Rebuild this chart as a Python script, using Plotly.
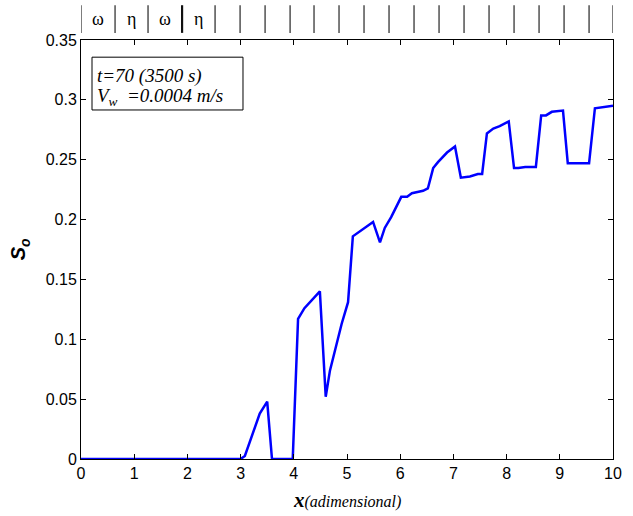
import plotly.graph_objects as go

# Oil saturation profile along the core at t=70
x_pos = [0.0, 1.0, 2.0, 3.0, 3.08, 3.36, 3.5, 3.59, 3.98, 4.08, 4.2, 4.49, 4.6, 4.68,
         4.9, 5.02, 5.11, 5.3, 5.49, 5.62, 5.71, 5.83, 6.02, 6.13, 6.22, 6.43, 6.52,
         6.62, 6.71, 6.88, 7.03, 7.14, 7.31, 7.46, 7.54, 7.63, 7.75, 7.87, 8.04, 8.14,
         8.22, 8.35, 8.55, 8.65, 8.74, 8.85, 9.06, 9.15, 9.55, 9.66, 9.81, 10.0]
s_oil = [0.0, 0.0, 0.0, 0.0, 0.0025, 0.038, 0.048, 0.0, 0.0, 0.117, 0.126, 0.140, 0.052, 0.074,
         0.113, 0.131, 0.186, 0.192, 0.198, 0.181, 0.193, 0.202, 0.219, 0.219, 0.222, 0.224, 0.226,
         0.243, 0.248, 0.256, 0.261, 0.235, 0.236, 0.238, 0.238, 0.272, 0.276, 0.278, 0.282, 0.243,
         0.243, 0.244, 0.244, 0.287, 0.287, 0.290, 0.291, 0.247, 0.247, 0.293, 0.294, 0.295]

# Layer boundaries drawn above the axes, and the labels of the first layers
layer_edges = [0.0, 0.64, 1.26, 1.90, 2.52, 2.99, 3.46, 3.93, 4.38, 4.85, 5.32, 5.79,
               6.26, 6.73, 7.20, 7.67, 8.14, 8.61, 9.08, 9.55, 10.0]
layer_names = ["ω", "η", "ω", "η"]

x_ticks = list(range(0, 11))
y_ticks = [0, 0.05, 0.1, 0.15, 0.2, 0.25, 0.3, 0.35]
y_tick_text = ["0", "0.05", "0.1", "0.15", "0.2", "0.25", "0.3", "0.35"]

fig = go.Figure()
fig.add_trace(go.Scatter(x=x_pos, y=s_oil, mode="lines",
                         line=dict(color="#0000FF", width=2.5), showlegend=False))

shapes = []
for i, e in enumerate(layer_edges):
    shapes.append(dict(type="line", xref="x", yref="paper", x0=e, x1=e,
                       y0=1.017, y1=1.083,
                       line=dict(color="#111111", width=2.2 if i == 3 else 1.1)))
# info box
shapes.append(dict(type="rect", xref="paper", yref="paper",
                   x0=0.0207, x1=0.3045, y0=0.833, y1=0.959,
                   line=dict(color="black", width=1), fillcolor="white", layer="above"))

annotations = []
for i, name in enumerate(layer_names):
    annotations.append(dict(x=(layer_edges[i] + layer_edges[i + 1]) / 2, y=1.05,
                            xref="x", yref="paper", xanchor="center", yanchor="middle",
                            text=name, showarrow=False,
                            font=dict(family="Liberation Serif", size=18, color="black")))

annotations += [
    dict(x=0.026, y=0.915, xref="paper", yref="paper", xanchor="left", yanchor="middle",
         text="<i>t=70 (3500 s)</i>", showarrow=False,
         font=dict(family="Liberation Serif", size=19, color="black")),
    dict(x=0.026, y=0.863, xref="paper", yref="paper", xanchor="left", yanchor="middle",
         text="<i>V<sub>w</sub>  =0.0004 m/s</i>", showarrow=False,
         font=dict(family="Liberation Serif", size=19, color="black")),
    dict(x=0.5, y=-0.098, xref="paper", yref="paper", xanchor="center", yanchor="middle",
         text="<b><i>x</i></b><i><span style='font-size:16px'>(adimensional)</span></i>",
         showarrow=False, font=dict(family="Liberation Serif", size=21, color="black")),
    dict(x=-0.115, y=0.5, xref="paper", yref="paper", xanchor="center", yanchor="middle",
         text="<b><i>S<sub>o</sub></i></b>", textangle=-90, showarrow=False,
         font=dict(family="Liberation Sans", size=20, color="black")),
]

axis_common = dict(showgrid=False, zeroline=False, showline=True, linecolor="black",
                   linewidth=1, mirror="ticks", ticks="inside", ticklen=5,
                   tickcolor="black", tickwidth=1,
                   tickfont=dict(family="Liberation Sans", size=16, color="black"))

fig.update_layout(
    width=633, height=516,
    margin=dict(l=81, r=20, t=40, b=57),
    paper_bgcolor="white", plot_bgcolor="white",
    xaxis=dict(range=[0, 10], tickvals=x_ticks, **axis_common),
    yaxis=dict(range=[0, 0.35], tickvals=y_ticks, ticktext=y_tick_text, **axis_common),
    shapes=shapes, annotations=annotations,
)

fig.write_html("out.html")
